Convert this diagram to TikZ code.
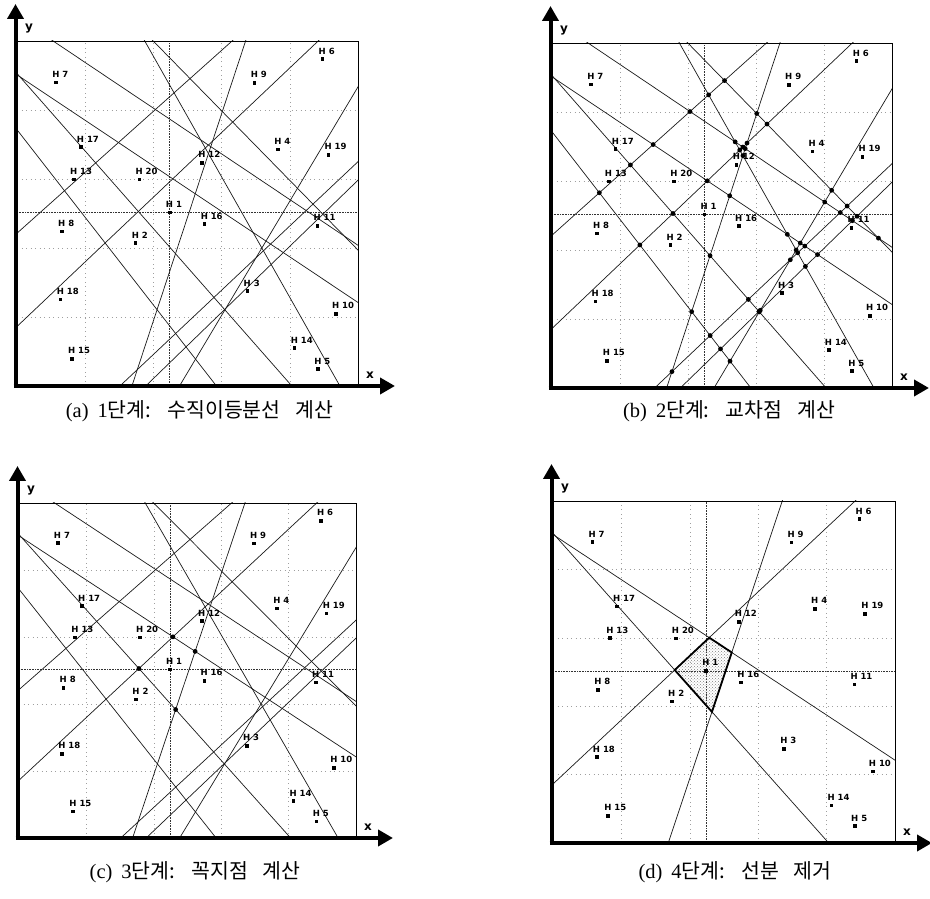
\documentclass[tikz,border=0pt]{standalone}
\usepackage{fontspec}
\newfontfamily\krfont{Noto Sans CJK KR}[WordSpace=3.2]
\newfontfamily\capserif{Liberation Serif}
\newfontfamily\labelfont{DejaVu Sans}
\usetikzlibrary{arrows.meta, patterns}

% sites (box = 100 x 100)
\newcommand\sites{1/44.8/50.3, 2/34.8/41.4, 3/67.6/27.5, 4/76.6/68.5,
  5/88.3/4.9, 6/89.6/94.7, 7/11.5/88.0, 8/13.2/44.8, 9/69.7/87.9,
  10/93.5/20.9, 11/88.1/46.4, 12/54.3/64.7, 13/16.7/59.9, 14/81.4/11.0,
  15/16.1/7.9, 16/55.0/46.9, 17/18.7/69.2, 18/12.8/25.1, 19/91.3/67.0,
  20/35.9/59.8}
\newcommand\neighbours{2,4,5,6,7,9,10,12,14,16,18,20}
\newcommand\cellsites{20,12,16,2}
\def\hx{44.8}
\def\hy{50.3}
\newcommand\bs[2]{(\csname #1#2\endcsname)}

\tikzset{
  boxframe/.style={draw=black, line width=0.8pt},
  axisline/.style={line width=4pt, -{Triangle[length=15pt,width=16pt]}},
  axislabel/.style={inner sep=0pt, font=\labelfont\bfseries\fontsize{12}{12}\selectfont},
  bisector/.style={draw=black!90, line width=0.7pt},
  gridline/.style={gray!75, line width=0.5pt, loosely dotted},
  hairline/.style={black!80, line width=0.6pt, densely dotted},
  sitedot/.style={rectangle, fill=black, inner sep=0pt, minimum size=3.6pt},
  sitelabel/.style={anchor=base west, inner sep=0pt, font=\labelfont\bfseries\fontsize{8.5}{8.5}\selectfont},
  crossdot/.style={fill=black},
  cell/.style={draw=black, line width=1.8pt, pattern=crosshatch dots, pattern color=gray},
  captext/.style={anchor=base, inner sep=0pt, font=\krfont\fontsize{20.5}{20.5}\selectfont}
}

% normal n, offset c and far end points of the bisector of H1 and Hn
\newcommand\bisectordata{%
  \foreach \n/\u/\v in \sites {
    \ifnum\n>1
      \pgfmathsetmacro\ddx{\u-\hx}
      \pgfmathsetmacro\ddy{\v-\hy}
      \pgfmathsetmacro\dlen{veclen(\ddx,\ddy)}
      \pgfmathsetmacro\nnx{\ddx/\dlen}
      \pgfmathsetmacro\nny{\ddy/\dlen}
      \pgfmathsetmacro\mmx{(\u+\hx)/2}
      \pgfmathsetmacro\mmy{(\v+\hy)/2}
      \pgfmathsetmacro\ncc{\nnx*\mmx+\nny*\mmy}
      \pgfmathsetmacro\pax{\mmx-150*(\nny)}
      \pgfmathsetmacro\pay{\mmy+150*(\nnx)}
      \pgfmathsetmacro\pbx{\mmx+150*(\nny)}
      \pgfmathsetmacro\pby{\mmy-150*(\nnx)}
      \expandafter\xdef\csname nx\n\endcsname{\nnx}
      \expandafter\xdef\csname ny\n\endcsname{\nny}
      \expandafter\xdef\csname cc\n\endcsname{\ncc}
      \expandafter\xdef\csname ends\n\endcsname{\pax/\pay/\pbx/\pby}
    \fi
  }
}

\newcommand\crossing[2]{%
  \pgfmathsetmacro\qx{(\bs{cc}{#1}*\bs{ny}{#2}-\bs{cc}{#2}*\bs{ny}{#1})/\qd}%
  \pgfmathsetmacro\qy{(\bs{nx}{#1}*\bs{cc}{#2}-\bs{nx}{#2}*\bs{cc}{#1})/\qd}%
}
\newcommand\crossdet[2]{%
  \pgfmathsetmacro\qd{\bs{nx}{#1}*\bs{ny}{#2}-\bs{ny}{#1}*\bs{nx}{#2}}%
}

\newcommand\drawbase{%
  \foreach \g in {20,40,60,80} {
    \draw[gridline] (\g,0) -- (\g,100);
    \draw[gridline] (0,\g) -- (100,\g);
  }
  \foreach \n/\u/\v in \sites {\coordinate (H\n) at (\u,\v);}
  \coordinate (SW) at (0,0);
  \coordinate (NE) at (100,100);
  \draw[hairline] (H1 |- SW) -- (H1 |- NE);
  \draw[hairline] (H1 -| SW) -- (H1 -| NE);
}

\newcommand\drawbisectors[1]{%
  \begin{scope}
    \clip (SW) rectangle (NE);
    \foreach \i in #1 {
      \edef\ends{\csname ends\i\endcsname}
      \foreach \ax/\ay/\bx/\by in \ends {
        \draw[bisector] (\ax,\ay) -- (\bx,\by);
      }
    }
  \end{scope}
}

\newcommand\drawframe{%
  \draw[boxframe] (SW) rectangle (NE);
  \draw[axisline] ([xshift=-1.5pt,yshift=-2pt]0,0) -- ([xshift=-1.5pt,yshift=37pt]0,100);
  \draw[axisline] ([xshift=-3.5pt]0,0) -- ([xshift=37pt]100,0);
  \node[axislabel] (ylab) at ([xshift=12pt,yshift=12.5pt]0,100) {y};
  \node[axislabel] (xlab) at ([xshift=12pt,yshift=11pt]100,0) {x};
}

\newcommand\drawsites{%
  \foreach \n in {1,...,20} {
    \node[sitedot] (D\n) at (H\n) {};
    \node[sitelabel] (L\n) at ([xshift=-4pt,yshift=5pt]H\n) {H \n};
  }
}

\newcommand\drawcrossings[1]{%
  \foreach \i [count=\a] in #1 {
    \foreach \j [count=\b] in #1 {
      \ifnum\b>\a\relax
        \crossdet{\i}{\j}
        \pgfmathtruncatemacro\okay{abs(\qd)>0.02}
        \ifnum\okay=1
          \crossing{\i}{\j}
          \pgfmathtruncatemacro\inbox{and(and(\qx>1.5,\qx<98.5),and(\qy>1.5,\qy<98.5))}
          \ifnum\inbox=1
            \fill[crossdot] (\qx,\qy) circle (2.4pt);
          \fi
        \fi
      \fi
    }
  }
}

\newcommand\findcell{%
  \crossdet{20}{12}\crossing{20}{12}\coordinate (V1) at (\qx,\qy);
  \crossdet{12}{16}\crossing{12}{16}\coordinate (V2) at (\qx,\qy);
  \crossdet{16}{2}\crossing{16}{2}\coordinate (V3) at (\qx,\qy);
  \crossdet{2}{20}\crossing{2}{20}\coordinate (V4) at (\qx,\qy);
}

\begin{document}
\begin{tikzpicture}[x=1pt, y=1pt]
  \useasboundingbox (0,0) rectangle (930,899);
  \bisectordata

  % (a) bisectors
  \begin{scope}[shift={(17pt,513pt)}, x=3.41pt, y=3.45pt]
    \drawbase
    \drawbisectors{\neighbours}
    \drawframe
    \drawsites
  \end{scope}

  % (b) crossings
  \begin{scope}[shift={(552pt,511pt)}, x=3.40pt, y=3.45pt]
    \drawbase
    \drawbisectors{\neighbours}
    \drawframe
    \drawsites
    \drawcrossings{\neighbours}
  \end{scope}

  % (c) vertices
  \begin{scope}[shift={(19pt,61pt)}, x=3.37pt, y=3.35pt]
    \drawbase
    \drawbisectors{\neighbours}
    \drawframe
    \drawsites
    \findcell
    \foreach \k in {1,...,4} {\fill[crossdot] (V\k) circle (2.4pt);}
  \end{scope}

  % (d) cell
  \begin{scope}[shift={(553pt,56pt)}, x=3.42pt, y=3.42pt]
    \drawbase
    \drawbisectors{\cellsites}
    \findcell
    \draw[cell] (V1) -- (V2) -- (V3) -- (V4) -- cycle;
    \drawframe
    \drawsites
  \end{scope}

  \node[captext] (capa) at (199.5,481) {{\capserif (a)\hspace{9pt}1}단계: 수직이등분선 계산};
  \node[captext] (capb) at (729,481) {{\capserif (b)\hspace{9pt}2}단계: 교차점 계산};
  \node[captext] (capc) at (195,20) {{\capserif (c)\hspace{9pt}3}단계: 꼭지점 계산};
  \node[captext] (capd) at (735,20) {{\capserif (d)\hspace{9pt}4}단계: 선분 제거};
\end{tikzpicture}
\end{document}
